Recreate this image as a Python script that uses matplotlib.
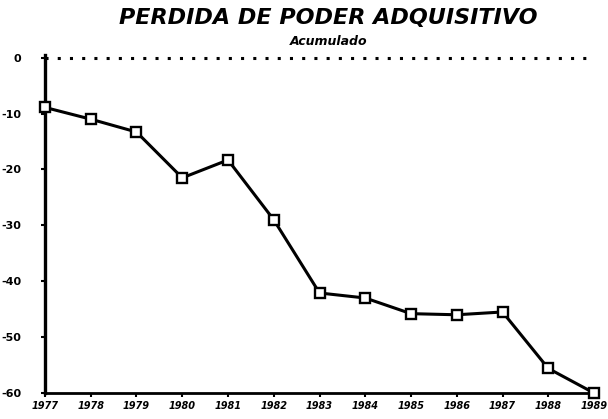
import matplotlib
matplotlib.use("Agg")
import matplotlib.pyplot as plt

# ---- data (cumulative loss, %) ----
years = [1977, 1978, 1979, 1980, 1981, 1982, 1983, 1984, 1985, 1986, 1987, 1988, 1989]
perdida = [-8.9, -11.0, -13.3, -21.5, -18.3, -29.0, -42.1, -43.0, -45.8, -46.0, -45.5, -55.6, -60.0]
yticks = [0, -10, -20, -30, -40, -50, -60]

fig = plt.figure(figsize=(6.08, 4.19), dpi=100)
ax = fig.add_axes([0.074, 0.062, 0.903, 0.807])

ax.plot(years, perdida, color="black", lw=2.2, marker="s", ms=6.5,
        mfc="white", mec="black", mew=1.7, zorder=3, clip_on=False)
ax.axhline(0, color="black", lw=2.2, ls=(0, (1, 3)), zorder=2)

ax.set_xlim(1977, 1989)
ax.set_ylim(-60, 0.5)
for s in ("top", "right"):
    ax.spines[s].set_visible(False)
ax.spines["left"].set_linewidth(2.4)
ax.spines["bottom"].set_linewidth(2.0)

ax.set_yticks(yticks)
ax.set_yticklabels([str(v) for v in yticks], fontsize=8, fontweight="bold")
ax.set_xticks(years)
ax.set_xticklabels([str(y) for y in years], fontsize=7, fontweight="bold", style="italic")
ax.tick_params(axis="y", length=3, width=1.5, pad=14)
ax.tick_params(axis="x", length=3, width=1.5, pad=3)

fig.text(0.54, 0.957, "PERDIDA DE PODER ADQUISITIVO", ha="center", va="center",
         fontsize=16, style="italic", fontweight="bold", family="DejaVu Sans")
fig.text(0.54, 0.9, "Acumulado", ha="center", va="center",
         fontsize=9, style="italic", fontweight="bold")

fig.savefig("out.png", dpi=100, facecolor="white")
